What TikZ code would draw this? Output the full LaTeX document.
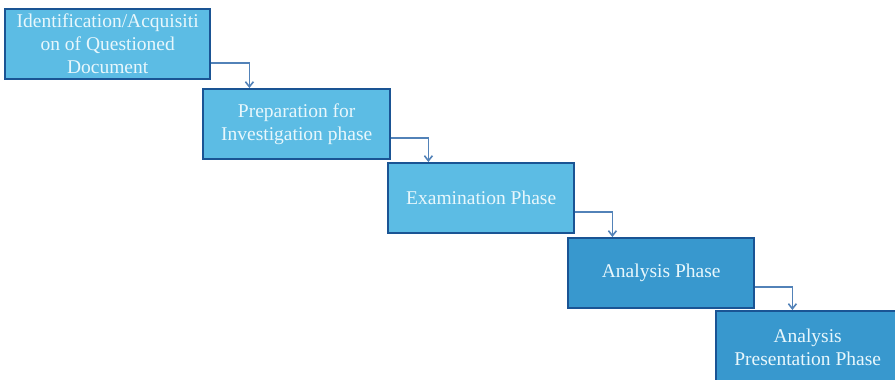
\documentclass[tikz,border=0pt]{standalone}
\usepackage{fontspec}
\setmainfont{Liberation Serif}
\usepackage{tikz}
\usetikzlibrary{arrows.meta,positioning}
\usepackage{xcolor}
\definecolor{phaselight} {RGB}{ 92,188,228}
\definecolor{phasedark}  {RGB}{ 56,152,206}
\definecolor{phaseedge}  {RGB}{ 26, 84,148}
\definecolor{phaselink}  {RGB}{ 82,130,184}
\definecolor{phasetext}  {RGB}{232,247,252}

\begin{document}
\begin{tikzpicture}[
  x=1pt, y=-1pt,
  every node/.style={font=\fontsize{19.5}{23}\selectfont, align=center},
  box/.style={draw=phaseedge, fill=phaselight, line width=2.4pt, text=phasetext, anchor=north west, inner sep=0pt, minimum height=70pt},
  darkbox/.style={box, fill=phasedark},
  link/.style={-{Straight Barb[length=5pt,width=8pt]}, line width=1.6pt, phaselink}
]
  \useasboundingbox (0,0) rectangle (895,380);

  % Nodes
  \node (ident)   [box, minimum width=205pt] at (4,8) {Identification/Acquisiti\\on of Questioned\\Document};
  \node (prep)    [box, minimum width=187pt] at (202,88) {Preparation for\\Investigation phase};
  \node (exam)    [box, minimum width=186pt] at (387,162) {Examination Phase};
  \node (analyse) [darkbox, minimum width=186pt] at (567,237) {Analysis Phase};
  \node (present) [darkbox, minimum width=183pt, minimum height=72pt] at (715,310) {Analysis\\Presentation Phase};

  % Paths
  \draw [link] ([yshift=-19pt]ident.east) -| ([xshift=38pt]ident.east |- prep.north);
  \draw [link] ([yshift=-14pt]prep.east) -| ([xshift=37pt]prep.east |- exam.north);
  \draw [link] ([yshift=-14pt]exam.east) -| ([xshift=37pt]exam.east |- analyse.north);
  \draw [link] ([yshift=-14pt]analyse.east) -| ([xshift=37pt]analyse.east |- present.north);
\end{tikzpicture}
\end{document}
